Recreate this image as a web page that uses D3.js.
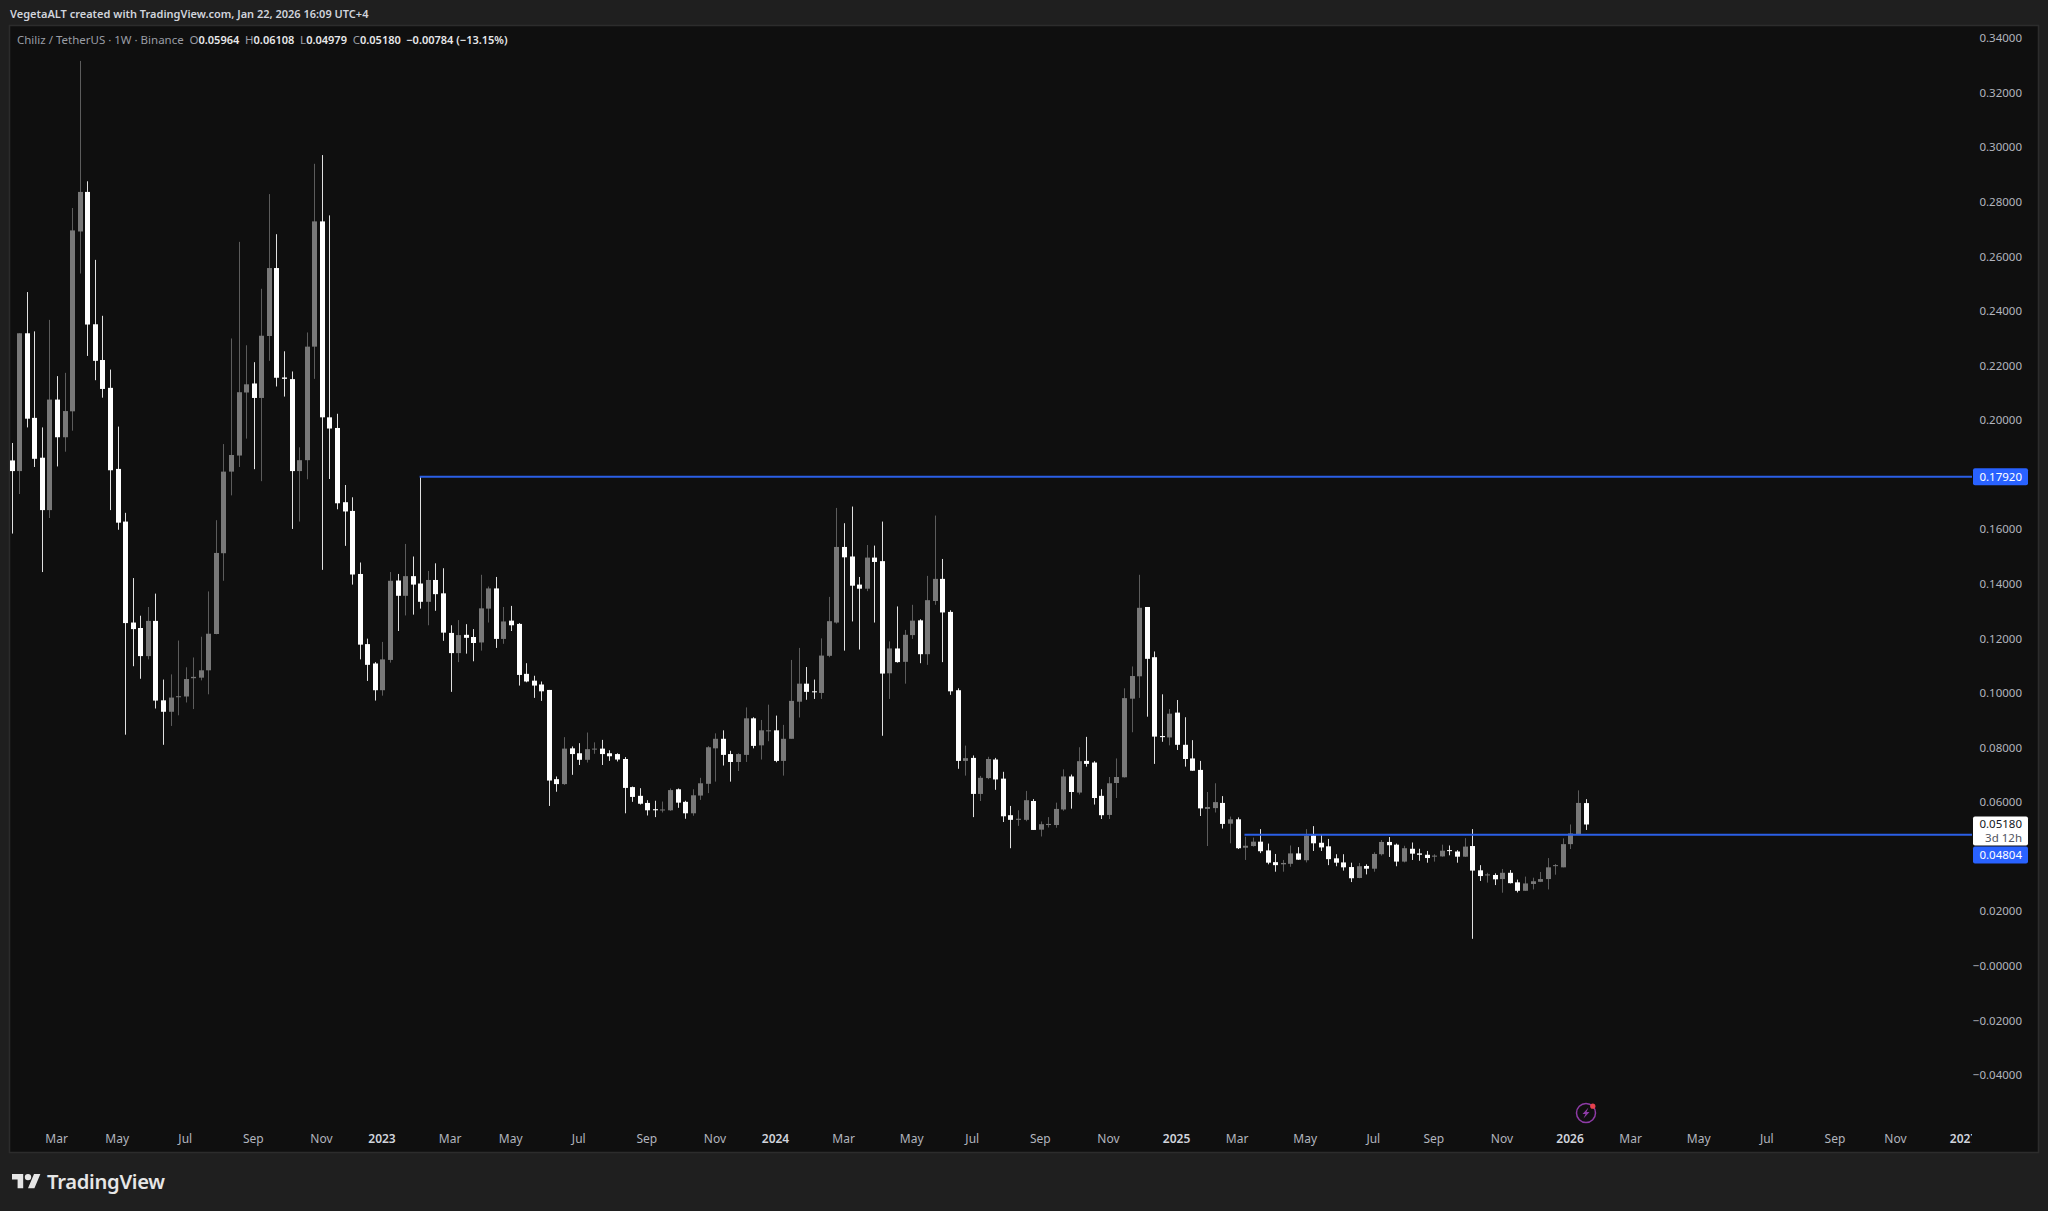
<!DOCTYPE html>
<html><head><meta charset="utf-8">
<style>html,body{margin:0;padding:0;background:#1f1f1f;overflow:hidden}svg{display:block}text{font-family:"Noto Sans",sans-serif}</style>
<script src="https://cdnjs.cloudflare.com/ajax/libs/d3/7.8.5/d3.min.js"></script>
</head><body><svg id="c" width="2048" height="1211"></svg>
<script>
const firstWeek = "2022-01-24";
const opens = [.1852,.1813,.2318,.2008,.1862,.1670,.2075,.1937,.2032,.2691,.2836,.2351,.2220,.2118,.1821,.1628,.1258,.1238,.1135,.1264,.0973,.0931,.0985,.0987,.1054,.1056,.1083,.1216,.1512,.1811,.1870,.2101,.2134,.2081,.2308,.2557,.2156,.2150,.1813,.1853,.2269,.2728,.2010,.1971,.1699,.1667,.1436,.1179,.1108,.1010,.1121,
.1412,.1356,.1428,.1401,.1334,.1414,.1365,.1220,.1146,.1213,.1205,.1185,.1309,.1383,.1198,.1265,.1253,.1070,.1045,.1031,.1011,.0684,.0666,.0797,.0779,.0755,.0794,.0796,.0779,.0776,.0758,.0655,.0623,.0597,.0574,.0570,.0570,.0647,.0601,.0559,.0624,.0667,.0797,.0832,.0776,.0747,.0773,.0907,.0808,.0861,.0863,
.0751,.0832,.0968,.1034,.1006,.1000,.1136,.1258,.1535,.1500,.1397,.1382,.1496,.1483,.1072,.1163,.1114,.1212,.1266,.1142,.1337,.1418,.1297,.1010,.0751,.0762,.0630,.0688,.0756,.0686,.0552,.0535,.0535,.0604,.0499,.0516,.0516,.0573,.0694,.0635,.0751,.0745,.0623,.0553,.0670,.0691,.0979,.1061,.1315,.1131,
.0842,.0837,.0928,.0810,.0760,.0718,.0575,.0578,.0597,.0521,.0537,.0433,.0439,.0455,.0423,.0380,.0372,.0374,.0412,.0387,.0478,.0451,.0438,.0394,.0379,.0362,.0322,.0366,.0356,.0409,.0454,.0444,.0382,.0429,.0412,.0407,.0400,.0401,.0424,.0419,.0400,.0439,.0350,.0332,.0333,.0318,.0341,.0306,.0275,.0300,.0308,.0318,.0367,.0361,.0446,.0483,.05964];
const highs = [.1916,.2318,.2469,.2325,.1973,.2367,.2161,.2173,.2777,.3316,.2875,.2587,.2382,.2185,.1976,.1660,.1421,.1283,.1315,.1364,.1049,.1068,.1192,.1094,.1130,.1206,.1372,.1633,.1912,.2299,.2653,.2274,.2212,.2481,.2828,.2681,.2252,.2178,.1900,.2321,.2939,.2971,.2750,.2023,.1762,.1717,.1478,.1199,.1113,.1187,.1443,
.1436,.1546,.1500,.1792,.1447,.1475,.1457,.1248,.1267,.1252,.1234,.1433,.1390,.1425,.1315,.1319,.1256,.1109,.1063,.1042,.1011,.0694,.0838,.0804,.0816,.0855,.0819,.0828,.0790,.0779,.0765,.0657,.0651,.0607,.0605,.0602,.0650,.0650,.0605,.0647,.0689,.0805,.0852,.0863,.0788,.0779,.0947,.0911,.0901,.0957,.0917,
.0883,.1121,.1165,.1095,.1049,.1200,.1352,.1678,.1622,.1683,.1425,.1542,.1540,.1628,.1189,.1317,.1231,.1323,.1270,.1429,.1650,.1491,.1303,.1017,.0807,.0771,.0696,.0766,.0762,.0711,.0586,.0570,.0641,.0611,.0529,.0545,.0598,.0720,.0701,.0801,.0839,.0750,.0647,.0692,.0760,.1017,.1097,.1433,.1315,.1152,
.0995,.0941,.0974,.0911,.0827,.0751,.0637,.0669,.0622,.0547,.0544,.0473,.0470,.0501,.0448,.0410,.0388,.0441,.0435,.0501,.0512,.0483,.0465,.0409,.0409,.0378,.0377,.0372,.0416,.0461,.0472,.0448,.0440,.0452,.0429,.0421,.0409,.0444,.0441,.0424,.0468,.0501,.0369,.0341,.0339,.0355,.0351,.0316,.0327,.0323,.0344,.0395,.0373,.0467,.0518,.0643,.06108];
const lows = [.1584,.1729,.1973,.1828,.1443,.1641,.1830,.1884,.1961,.2537,.2235,.2146,.2082,.1670,.1598,.0847,.1098,.1052,.1123,.0943,.0810,.0879,.0918,.0965,.0941,.1046,.0995,.1215,.1411,.1724,.1828,.1932,.1820,.1776,.2217,.2123,.2086,.1601,.1628,.1783,.2151,.1451,.1784,.1673,.1539,.1397,.1123,.1044,.0972,.0990,.1111,
.1227,.1284,.1287,.1309,.1248,.1301,.1191,.1004,.1113,.1144,.1116,.1155,.1258,.1165,.1180,.1227,.1027,.1039,.0982,.0971,.0586,.0638,.0663,.0700,.0736,.0745,.0777,.0736,.0751,.0749,.0559,.0601,.0591,.0551,.0545,.0562,.0568,.0579,.0539,.0550,.0608,.0633,.0675,.0734,.0675,.0714,.0747,.0797,.0756,.0823,.0746,
.0697,.0833,.0910,.0975,.0978,.0978,.1131,.1254,.1155,.1262,.1159,.1373,.1258,.0843,.0978,.1111,.1034,.1198,.1109,.1103,.1323,.1113,.0993,.0722,.0697,.0545,.0604,.0684,.0645,.0527,.0431,.0513,.0530,.0498,.0474,.0507,.0506,.0568,.0576,.0628,.0730,.0591,.0538,.0538,.0615,.0690,.0856,.0982,.0913,.0740,
.0821,.0808,.0791,.0730,.0715,.0549,.0439,.0562,.0503,.0449,.0428,.0388,.0437,.0413,.0372,.0345,.0345,.0363,.0388,.0379,.0421,.0421,.0369,.0365,.0349,.0307,.0321,.0335,.0345,.0404,.0399,.0365,.0379,.0388,.0385,.0378,.0382,.0400,.0405,.0378,.0399,.0099,.0311,.0305,.0296,.0268,.0302,.0269,.0275,.0280,.0307,.0280,.0334,.0361,.0428,.0483,.04979];
const closes = [.1813,.2318,.2005,.1858,.1670,.2075,.1937,.2033,.2695,.2836,.2350,.2217,.2114,.1816,.1624,.1256,.1234,.1135,.1264,.0972,.0931,.0983,.0988,.1051,.1059,.1083,.1217,.1513,.1811,.1872,.2102,.2131,.2081,.2309,.2557,.2155,.2151,.1813,.1853,.2269,.2728,.2010,.1969,.1695,.1665,.1434,.1177,.1103,.1010,.1123,.1411,
.1356,.1428,.1397,.1334,.1414,.1362,.1221,.1146,.1212,.1202,.1183,.1310,.1383,.1198,.1262,.1248,.1066,.1042,.1027,.1006,.0679,.0666,.0796,.0776,.0755,.0794,.0796,.0776,.0768,.0756,.0652,.0619,.0594,.0570,.0570,.0573,.0644,.0598,.0559,.0625,.0669,.0801,.0832,.0773,.0747,.0776,.0907,.0806,.0863,.0863,.0751,
.0832,.0971,.1034,.1004,.1003,.1137,.1263,.1535,.1497,.1393,.1382,.1496,.1480,.1071,.1163,.1113,.1213,.1265,.1142,.1340,.1418,.1295,.1006,.0751,.0761,.0630,.0689,.0758,.0683,.0548,.0535,.0539,.0607,.0498,.0519,.0520,.0575,.0694,.0637,.0750,.0740,.0615,.0552,.0669,.0692,.0981,.1062,.1312,.1125,.0840,
.0838,.0924,.0810,.0758,.0715,.0577,.0582,.0600,.0520,.0537,.0431,.0440,.0455,.0420,.0378,.0369,.0377,.0412,.0389,.0477,.0449,.0434,.0391,.0378,.0361,.0321,.0365,.0356,.0410,.0454,.0442,.0382,.0431,.0411,.0407,.0395,.0404,.0422,.0421,.0400,.0437,.0349,.0329,.0335,.0317,.0341,.0303,.0275,.0302,.0310,.0318,.0361,.0369,.0446,.0485,.0597,.05180];

const priceTicks = [.34,.32,.30,.28,.26,.24,.22,.20,.18,.16,.14,.12,.10,.08,.06,.04,.02,0,-.02,-.04];
const priceTickLabels = ["0.34000","0.32000","0.30000","0.28000","0.26000","0.24000","0.22000","0.20000","0.16000","0.14000","0.12000","0.10000","0.08000","0.06000","0.02000","−0.00000","−0.02000","−0.04000"];
const hiddenPriceTicks = [.18,.04];
const timeTicks = ["2022-03-07","2022-05-02","2022-07-04","2022-09-05","2022-11-07","2023-01-02","2023-03-06","2023-05-01","2023-07-03","2023-09-04","2023-11-06","2024-01-01","2024-03-04","2024-05-06","2024-07-01","2024-09-02","2024-11-04","2025-01-06","2025-03-03","2025-05-05","2025-07-07","2025-09-01","2025-11-03","2026-01-05","2026-03-02","2026-05-04","2026-07-06","2026-09-07","2026-11-02","2027-01-04"];
const timeTickLabels = ["Mar","May","Jul","Sep","Nov","2023","Mar","May","Jul","Sep","Nov","2024","Mar","May","Jul","Sep","Nov","2025","Mar","May","Jul","Sep","Nov","2026","Mar","May","Jul","Sep","Nov","2027"];
const yearLabels = ["2023","2024","2025","2026","2027"];
const levels = [{value:.1792,startIndex:54,label:"0.17920"},{value:.04804,startIndex:163,label:"0.04804"}];
const lastPrice = .0518, lastLabel = "0.05180", countdown = "3d 12h";
const headerText = "VegetaALT created with TradingView.com, Jan 22, 2026 16:09 UTC+4";
const legendParts = [["Chiliz / TetherUS · 1W · Binance",0],["O",0],["0.05964",1],["H",0],["0.06108",1],["L",0],["0.04979",1],["C",0],["0.05180",1],["−0.00784 (−13.15%)",1]];

const BG="#1f1f1f", PANEL="#0f0f0f", UP="#787878", DOWN="#ffffff", UPW="#5c5c5c", DOWNW="#e0e0e0", BLUE="#2962ff", TXT="#b2b5be";
const panel={l:10,t:26,r:2038,b:1152}, axisX=1972;
const svg=d3.select("#c");
svg.append("rect").attr("width",2048).attr("height",1211).attr("fill",BG);
svg.append("rect").attr("x",panel.l-.5).attr("y",panel.t-.5).attr("width",panel.r-panel.l+1).attr("height",panel.b-panel.t+1).attr("fill",PANEL).attr("stroke","#2c2c2c").attr("stroke-width",1.5);

const parse=d3.utcParse("%Y-%m-%d");
const t0=parse(firstWeek);
const dates=opens.map((_,i)=>d3.utcDay.offset(t0,i*7));
const x=d3.scaleUtc().domain([t0,dates[dates.length-1]]).range([12,1586]);
const y=d3.scaleLinear().domain([.34,-.04]).range([38,1075]);

const defs=svg.append("defs");
defs.append("clipPath").attr("id","plot").append("rect").attr("x",panel.l).attr("y",panel.t).attr("width",axisX-panel.l).attr("height",panel.b-panel.t);

const plot=svg.append("g").attr("clip-path","url(#plot)");
const idx=d3.range(opens.length);
const bodyW=5;
plot.append("g").selectAll("line").data(idx).join("line")
 .attr("x1",i=>Math.round(x(dates[i])-.4)+.5).attr("x2",i=>Math.round(x(dates[i])-.4)+.5)
 .attr("y1",i=>y(highs[i])).attr("y2",i=>y(lows[i]))
 .attr("stroke",i=>closes[i]<opens[i]?DOWNW:UPW).attr("stroke-width",1);
plot.append("g").selectAll("rect").data(idx).join("rect")
 .attr("x",i=>Math.round(x(dates[i])-.4)-2).attr("width",bodyW)
 .attr("y",i=>y(Math.max(opens[i],closes[i])))
 .attr("height",i=>Math.max(1,Math.abs(y(opens[i])-y(closes[i]))))
 .attr("fill",i=>closes[i]<opens[i]?DOWN:UP);

// horizontal levels
plot.append("g").selectAll("line").data(levels).join("line")
 .attr("x1",d=>x(dates[d.startIndex])-1).attr("x2",axisX)
 .attr("y1",d=>y(d.value)).attr("y2",d=>y(d.value))
 .attr("stroke","#2b5fe6").attr("stroke-width",2);

// axes
const yAxis=d3.axisRight(y).tickValues(priceTicks.filter(v=>!hiddenPriceTicks.includes(v))).tickFormat((d,i)=>priceTickLabels[i]).tickSize(0).tickPadding(0);
const gy=svg.append("g").attr("transform","translate(2022,0)").call(yAxis);
gy.select(".domain").remove();
gy.selectAll("text").attr("x",0).attr("text-anchor","end").attr("fill",TXT).attr("font-size",11.5).attr("font-family",'"Noto Sans",sans-serif');

const timeVals=timeTicks.map(parse);
const xAxis=d3.axisBottom(x).tickValues(timeVals).tickFormat((d,i)=>timeTickLabels[i]).tickSize(0).tickPadding(0);
const gx=svg.append("g").attr("clip-path","url(#plot)").append("g").attr("transform","translate(-1.3,1134)").call(xAxis);
gx.select(".domain").remove();
gx.selectAll("text").attr("fill",(d,i)=>yearLabels.includes(timeTickLabels[i])?"#d1d4dc":TXT).attr("font-size",12).attr("font-family",'"Noto Sans",sans-serif').attr("font-weight",(d,i)=>yearLabels.includes(timeTickLabels[i])?600:400);

// price labels
const labelG=svg.append("g").attr("font-size",11.5);
const boxX=1973, boxW=55;
levels.forEach((d,k)=>{
  const cy=k===0?y(d.value):855;
  labelG.append("rect").attr("x",boxX).attr("y",cy-8.5).attr("width",boxW).attr("height",17).attr("rx",2).attr("fill",BLUE);
  labelG.append("text").attr("x",2022).attr("y",cy+4).attr("text-anchor","end").attr("fill","#fff").text(d.label);
});
const ly=y(lastPrice);
labelG.append("rect").attr("x",boxX).attr("y",ly-8).attr("width",boxW).attr("height",29).attr("rx",2).attr("fill","#fff");
labelG.append("text").attr("x",2022).attr("y",ly+4).attr("text-anchor","end").attr("fill","#131722").text(lastLabel);
labelG.append("text").attr("x",2022).attr("y",ly+18).attr("text-anchor","end").attr("fill","#50535e").text(countdown);

// header + legend
svg.append("text").attr("x",10).attr("y",18).attr("fill","#d1d4dc").attr("font-size",11).attr("font-weight",600).text(headerText);
const legend=svg.append("text").attr("x",17).attr("y",44).attr("font-size",11.5).attr("fill","#a0a3ab");
legendParts.forEach(([s,b],i)=>{
  const gap = (i===1||i===3||i===5||i===7||i===9)? "\u2002":"";
  legend.append("tspan").attr("fill",b?"#e8e8ea":"#9a9da5").attr("font-weight",b?600:400).attr("font-size",b?11:11.5).text(gap+s);
});

// logo
const logo=svg.append("g").attr("transform","translate(12,1170.7) scale(.8)").attr("fill","#e6e6e6");
logo.append("path").attr("d","M14 22H7V11H0V4h14v18zM28 22h-8l7.5-18h8L28 22z");
logo.append("circle").attr("cx",20).attr("cy",8).attr("r",4);
svg.append("text").attr("x",47).attr("y",1189).attr("fill","#e6e6e6").attr("font-size",20.2).attr("font-weight",600).attr("letter-spacing",-.3).attr("font-family","Inter,sans-serif").text("TradingView");

// bolt icon
const ic=svg.append("g").attr("transform","translate(1586,1113)");
ic.append("circle").attr("r",9.5).attr("fill","none").attr("stroke","#8e3ba6").attr("stroke-width",1.5);
ic.append("path").attr("d","M2.5,-5.5 L-3.5,1 L-0.5,1 L-2.5,5.5 L3.5,-1 L0.5,-1 Z").attr("fill","#8e3ba6");
ic.append("circle").attr("cx",6.8).attr("cy",-6.8).attr("r",2.6).attr("fill","#e5424d");
</script></body></html>
